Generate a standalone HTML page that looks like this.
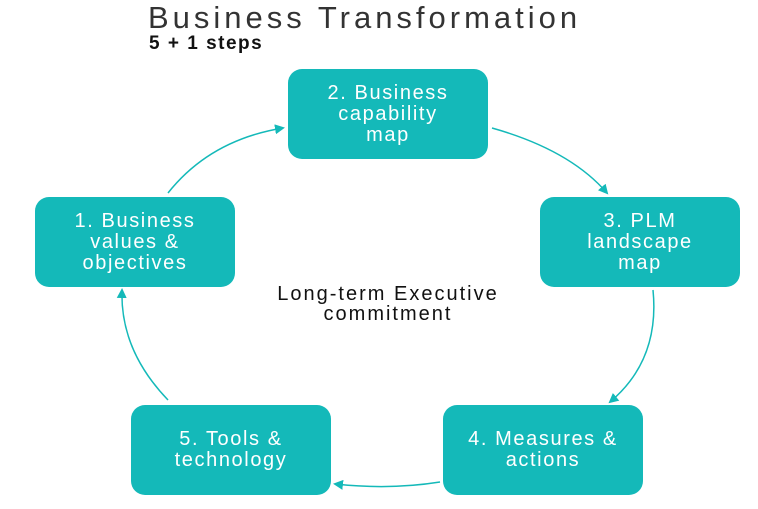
<!DOCTYPE html>
<html><head><style>
body{margin:0;width:758px;height:509px;background:#fff;overflow:hidden;position:relative;font-family:"Liberation Sans",sans-serif}
.t{position:absolute;left:148px;top:0px;font-size:31px;color:#333;letter-spacing:4px;font-weight:300}
.s{position:absolute;left:149px;top:33px;font-size:19px;font-weight:bold;color:#111;letter-spacing:1.5px}
.b{position:absolute;width:200px;height:90px;background:#14b9b9;border-radius:14px;color:#fff;font-size:20px;letter-spacing:1.6px;line-height:21px;text-align:center;display:flex;align-items:center;justify-content:center}
.c{position:absolute;left:188px;top:284px;width:400px;text-align:center;font-size:20px;letter-spacing:2px;line-height:20px;color:#111}
</style></head><body>
<div class="t">Business Transformation</div>
<div class="s">5 + 1 steps</div>
<svg width="758" height="509" style="position:absolute;left:0;top:0">
<defs><marker id="a" markerWidth="10" markerHeight="10" refX="8" refY="5" orient="auto" markerUnits="userSpaceOnUse"><path d="M0,0 L10,5 L0,10 z" fill="#14b9b9"/></marker></defs>
<g fill="none" stroke="#14b9b9" stroke-width="1.5" marker-end="url(#a)">
<path d="M168,193 Q210,140 283,128"/>
<path d="M492,128 Q570,150 607,193"/>
<path d="M653,290 Q660,360 610,402"/>
<path d="M440,482 Q390,490 335,484"/>
<path d="M168,400 Q120,350 122,290"/>
</g></svg>
<div class="b" style="left:288px;top:69px">2. Business<br>capability<br>map</div>
<div class="b" style="left:35px;top:197px">1. Business<br>values &amp;<br>objectives</div>
<div class="b" style="left:540px;top:197px">3. PLM<br>landscape<br>map</div>
<div class="b" style="left:443px;top:405px">4. Measures &amp;<br>actions</div>
<div class="b" style="left:131px;top:405px">5. Tools &amp;<br>technology</div>
<div class="c">Long-term Executive<br>commitment</div>
</body></html>
